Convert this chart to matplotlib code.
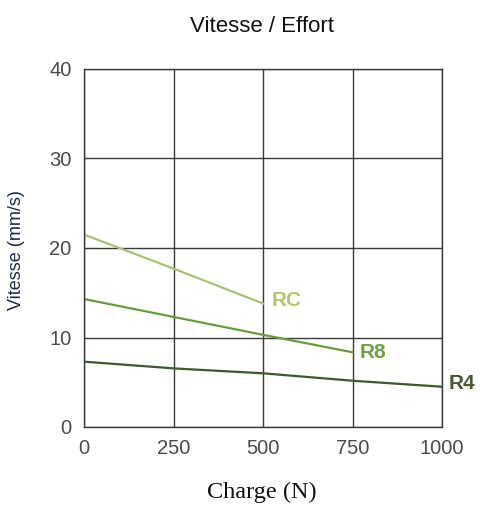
import numpy as np
from matplotlib import pyplot as plt

# Vitesse / Effort data
charge_rc = [0, 250, 500]
vit_rc = [21.5, 17.7, 13.8]
charge_r8 = [0, 250, 500, 750]
vit_r8 = [14.3, 12.3, 10.3, 8.35]
charge_r4 = [0, 250, 500, 750, 1000]
vit_r4 = [7.3, 6.55, 6.0, 5.17, 4.5]

x_ticks = [0, 250, 500, 750, 1000]
y_ticks = [0, 10, 20, 30, 40]

W, H = 481, 505
fig = plt.figure(figsize=(W / 100, H / 100), dpi=100)
ax = fig.add_axes([84 / W, 1 - 427 / H, (442 - 84) / W, (427 - 69) / H])

ax.plot(charge_rc, vit_rc, color='#a9c172', lw=1.6)
ax.plot(charge_r8, vit_r8, color='#6a9b3a', lw=1.6)
ax.plot(charge_r4, vit_r4, color='#3f5a2a', lw=1.6)

lab = dict(fontsize=15, fontweight='bold', family='Liberation Sans',
           textcoords='offset points', va='center', ha='left')
ax.annotate('RC', (charge_rc[-1], vit_rc[-1]), xytext=(6, 2), color='#b6c46c', **lab)
ax.annotate('R8', (charge_r8[-1], vit_r8[-1]), xytext=(5, 0), color='#6ea13f', **lab)
ax.annotate('R4', (charge_r4[-1], vit_r4[-1]), xytext=(5, 2), color='#4b5a2e', **lab)

ax.set_xlim(0, 1000)
ax.set_ylim(0, 40)
ax.set_xticks(x_ticks)
ax.set_yticks(y_ticks)
ax.grid(True, color='#3a3a3a', lw=1.0)
for s in ax.spines.values():
    s.set_color('#3a3a3a')
    s.set_linewidth(1.0)
ax.tick_params(length=0, labelsize=14.5, labelcolor='#4a4a4a', pad=9)
for t in ax.get_xticklabels() + ax.get_yticklabels():
    t.set_family('Liberation Sans')

fig.text(262 / W, 1 - 27 / H, 'Vitesse / Effort', ha='center', va='center',
         fontsize=16, family='Liberation Sans', color='#111111')
fig.text(262 / W, 1 - 498 / H, 'Charge (N)', ha='center', va='baseline',
         fontsize=17.5, family='Liberation Serif', color='#111111')
fig.text(17 / W, 1 - 250 / H, 'Vitesse (mm/s)', ha='center', va='center',
         rotation=90, fontsize=13, family='Liberation Sans', color='#1c2a40')

fig.savefig('out.png', dpi=100)
